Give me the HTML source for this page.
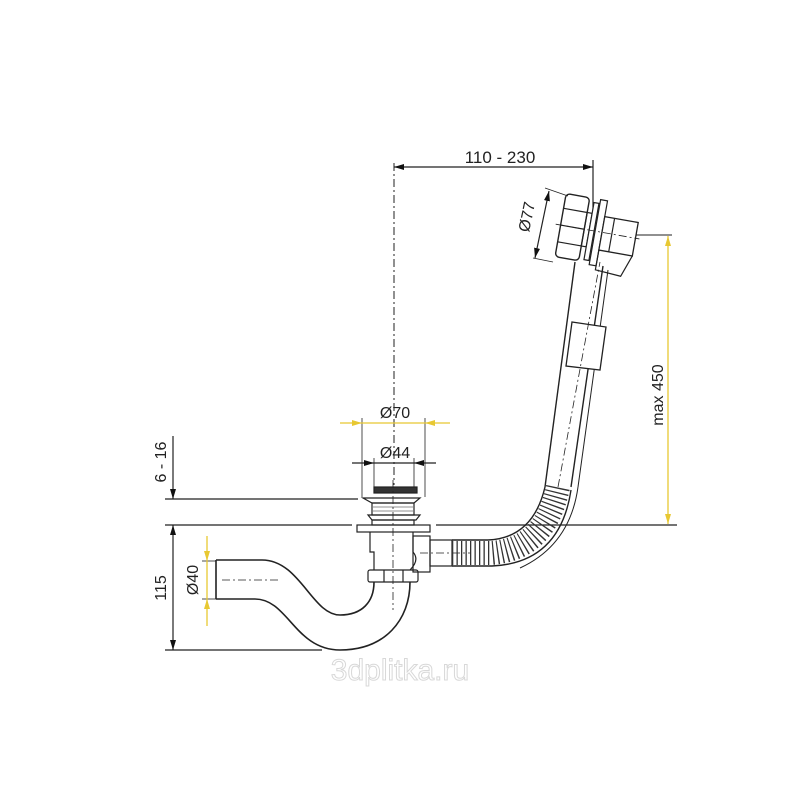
<!DOCTYPE html>
<html><head><meta charset="utf-8"><style>
html,body{margin:0;padding:0;background:#fff;}
svg{display:block;}
text{font-family:"Liberation Sans",sans-serif;fill:#222;}
</style></head><body>
<svg width="800" height="800" viewBox="0 0 800 800" xmlns="http://www.w3.org/2000/svg">
<defs>
<marker id="ab" viewBox="0 0 10 6" refX="10" refY="3" markerWidth="10" markerHeight="6" orient="auto-start-reverse" markerUnits="userSpaceOnUse"><path d="M0,0 L10,3 L0,6 Z" fill="#111"/></marker>
<marker id="ay" viewBox="0 0 10 6" refX="10" refY="3" markerWidth="10" markerHeight="6" orient="auto-start-reverse" markerUnits="userSpaceOnUse"><path d="M0,0 L10,3 L0,6 Z" fill="#e8c832"/></marker>
</defs>
<g fill="none" stroke="#222" stroke-width="1.2">
<line x1="394" y1="167" x2="593" y2="167" marker-start="url(#ab)" marker-end="url(#ab)"/>
<line x1="593" y1="160" x2="593" y2="218"/>
<line x1="394" y1="163" x2="394" y2="485" stroke-dasharray="8 3 2 3" stroke-width="1"/>
<line x1="362" y1="418" x2="362" y2="497" stroke-width="0.8"/>
<line x1="425" y1="418" x2="425" y2="497" stroke-width="0.8"/>
<line x1="374" y1="458" x2="374" y2="487" stroke-width="0.8"/>
<line x1="414" y1="458" x2="414" y2="487" stroke-width="0.8"/>
<line x1="352" y1="463" x2="374" y2="463" marker-end="url(#ab)"/>
<line x1="374" y1="463" x2="414" y2="463"/>
<line x1="436" y1="463" x2="414" y2="463" marker-end="url(#ab)"/>
<line x1="165" y1="499" x2="358" y2="499"/>
<line x1="165" y1="525" x2="352" y2="525"/>
<line x1="436" y1="525" x2="677" y2="525"/>
<line x1="165" y1="650" x2="322" y2="650"/>
<line x1="173" y1="436" x2="173" y2="499" marker-end="url(#ab)"/>
<line x1="173" y1="560" x2="173" y2="525" marker-end="url(#ab)"/>
<line x1="173" y1="560" x2="173" y2="650" marker-end="url(#ab)"/>
<line x1="202" y1="561" x2="216" y2="561" stroke-width="0.8"/>
<line x1="202" y1="599" x2="216" y2="599" stroke-width="0.8"/>
<line x1="608" y1="235" x2="672" y2="235" stroke-width="1"/>
<path d="M216,560 L216,599 M216,599 L255,599 C288,599 295,650 340,650 C385,650 410,620 410,582" stroke-width="1.6"/>
<path d="M216,560 L262,560 C300,560 312,615 340,615 C362,615 374,602 374,582" stroke-width="1.6"/>
<line x1="222" y1="580" x2="280" y2="580" stroke-dasharray="8 3 2 3" stroke-width="0.8"/>
<rect x="374" y="487" width="43" height="6" fill="#333"/>
<path d="M363,498 L420,498 L414,503 L372,503 Z"/>
<rect x="372" y="503" width="42" height="12"/>
<line x1="373" y1="507" x2="413" y2="507" stroke-width="0.6"/>
<line x1="373" y1="511" x2="413" y2="511" stroke-width="0.6"/>
<path d="M368,515 L420,515 L416,520 L372,520 Z"/>
<rect x="372" y="520" width="42" height="5"/>
<rect x="357" y="525" width="73" height="7"/>
<path d="M370,532 L370,552 L374,552 L374,570 M413,532 L413,552 Q420,560 410,570"/>
<rect x="413" y="536" width="17" height="36"/>
<rect x="430" y="540" width="22" height="26"/>
<rect x="368" y="570" width="50" height="12" rx="2"/>
<line x1="384" y1="570" x2="384" y2="582"/>
<line x1="403" y1="570" x2="403" y2="582"/>
<line x1="393" y1="480" x2="393" y2="610" stroke-dasharray="8 3 2 3" stroke-width="0.8"/>
<line x1="420" y1="553" x2="470" y2="553" stroke-dasharray="8 3 2 3" stroke-width="0.8"/>
<path d="M452,553 L490,553 Q545,550 558,487" stroke="#333" stroke-width="24" stroke-dasharray="1.3 3.2"/>
<path d="M452,540 L488,540 Q533,538 545,487" stroke-width="1.4"/>
<path d="M452,566 L492,566 Q560,563 571,490" stroke-width="1.4"/>
<path d="M578,487 Q570,545 520,568" stroke-width="1"/>
<line x1="545" y1="487" x2="575" y2="262" stroke-width="1.4"/>
<line x1="571" y1="487" x2="603" y2="266" stroke-width="1.4"/>
<line x1="578" y1="487" x2="608" y2="270" stroke-width="1"/>
<path d="M572,322 L606,327 L600,370 L566,366 Z" fill="#fff" stroke-width="1.3"/>
<line x1="558" y1="487" x2="600" y2="262" stroke-dasharray="8 3 2 3" stroke-width="0.8"/>
<g transform="rotate(10 600 232)">
<rect x="560" y="200" width="24" height="64" rx="4" fill="#fff" stroke-width="1.4"/>
<line x1="560" y1="215" x2="584" y2="215"/>
<line x1="560" y1="232" x2="584" y2="232"/>
<line x1="560" y1="249" x2="584" y2="249"/>
<rect x="584" y="215" width="5" height="34"/>
<rect x="589" y="204" width="5" height="58" fill="#fff"/>
<rect x="595" y="200" width="7" height="66" fill="#fff"/>
<rect x="602" y="216" width="34" height="34" fill="#fff" stroke-width="1.3"/>
<line x1="612" y1="216" x2="612" y2="250"/>
<path d="M602,250 L602,270 L628,272 L636,250"/>
<line x1="555" y1="232" x2="640" y2="232" stroke-dasharray="8 3 2 3" stroke-width="0.8"/>
</g>
<line x1="545" y1="188" x2="568" y2="196" stroke-width="0.8"/>
<line x1="533" y1="258" x2="553" y2="262" stroke-width="0.8"/>
<line x1="535" y1="258" x2="549" y2="191" marker-start="url(#ab)" marker-end="url(#ab)"/>
</g>
<g stroke="#e8c832" stroke-width="1.3" fill="none">
<line x1="340" y1="423" x2="362" y2="423" marker-end="url(#ay)"/>
<line x1="362" y1="423" x2="425" y2="423"/>
<line x1="450" y1="423" x2="425" y2="423" marker-end="url(#ay)"/>
<line x1="668" y1="236" x2="668" y2="524" marker-start="url(#ay)" marker-end="url(#ay)"/>
<line x1="207" y1="536" x2="207" y2="561" marker-end="url(#ay)"/>
<line x1="207" y1="561" x2="207" y2="599"/>
<line x1="207" y1="626" x2="207" y2="599" marker-end="url(#ay)"/>
</g>
<text x="500" y="163" font-size="17" text-anchor="middle">110 - 230</text>
<text x="395" y="418" font-size="16" text-anchor="middle">Ø70</text>
<text x="395" y="458" font-size="16" text-anchor="middle">Ø44</text>
<text font-size="16" text-anchor="middle" transform="translate(532,218) rotate(-78)">Ø77</text>
<text font-size="16" text-anchor="middle" transform="translate(663,395) rotate(-90)">max 450</text>
<text font-size="16" text-anchor="middle" transform="translate(166,462) rotate(-90)">6 - 16</text>
<text font-size="16" text-anchor="middle" transform="translate(166,588) rotate(-90)">115</text>
<text font-size="16" text-anchor="middle" transform="translate(198,580) rotate(-90)">Ø40</text>
<text x="400" y="680" font-size="30" text-anchor="middle" style="fill:#fff;stroke:#d8d8d8;stroke-width:1">3dplitka.ru</text>
</svg>
</body></html>
